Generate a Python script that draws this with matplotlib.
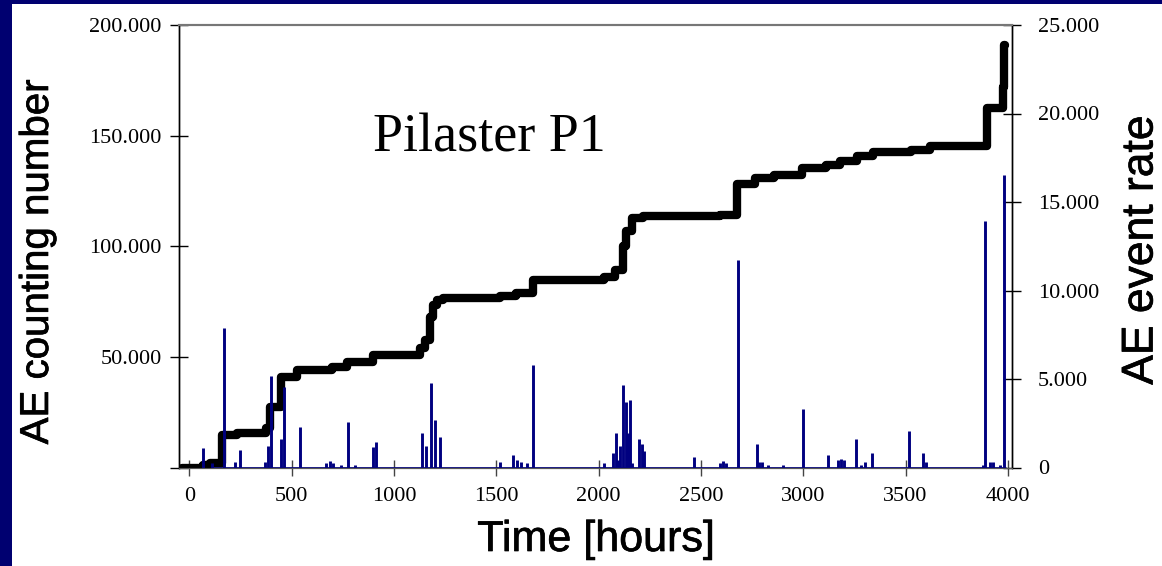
import matplotlib
matplotlib.use('Agg')
import matplotlib.pyplot as plt
import matplotlib.patheffects as pe
from matplotlib.patches import Rectangle
from matplotlib.ticker import FuncFormatter

# cumulative AE counts (step curve): time where a level starts, level value
count_hours = [-35, 68, 100, 161, 234, 376, 396, 449, 527, 698, 772, 899, 1128, 1153,
               1177, 1192, 1211, 1241, 1519, 1597, 1680, 2027, 2081, 2120, 2134, 2164,
               2217, 2593, 2676, 2764, 2857, 2994, 3111, 3179, 3262, 3341, 3526, 3619,
               3897, 3975, 3982, 3986]
count_values = [0, 1000, 2000, 14700, 15700, 17700, 27500, 41000, 44000, 45200, 47600,
                50900, 53900, 57700, 68200, 73500, 75800, 76500, 77300, 78800, 84800,
                86300, 89400, 99900, 106700, 112800, 113500, 114200, 128300, 130800,
                132300, 135400, 136600, 138400, 140600, 142500, 143700, 145200, 162500,
                172000, 191000, 191000]

# AE event rate spikes
rate_hours = [65, 111, 168, 225, 246, 371, 387, 400, 448, 461, 539, 670, 690, 700, 740,
              778, 810, 900, 912, 1136, 1157, 1182, 1203, 1226, 1519, 1584, 1600, 1620,
              1650, 1679, 2028, 2072, 2085, 2095, 2107, 2121, 2133, 2142, 2154, 2165,
              2199, 2211, 2224, 2468, 2593, 2610, 2625, 2683, 2772, 2785, 2800, 2830,
              2900, 3000, 3122, 3170, 3185, 3200, 3258, 3280, 3303, 3337, 3518, 3586,
              3600, 3880, 3889, 3912, 3927, 3960, 3980]
rate_values = [1090, 250, 7870, 330, 990, 330, 1230, 5170, 1600, 4530, 2310, 250, 350,
               250, 150, 2550, 150, 1180, 1460, 1970, 1200, 4800, 2690, 1740, 300, 700,
               450, 300, 250, 5800, 280, 840, 1970, 450, 1200, 4670, 3690, 1970, 3820,
               250, 1600, 1330, 950, 610, 250, 350, 250, 11700, 1330, 330, 330, 150,
               150, 3330, 700, 450, 500, 400, 1600, 150, 330, 840, 2080, 840, 330, 150,
               13900, 330, 330, 150, 16540]

x_ticks = [0, 500, 1000, 1500, 2000, 2500, 3000, 3500, 4000]
left_ticks = [0, 50000, 100000, 150000, 200000]
right_ticks = [0, 5000, 10000, 15000, 20000, 25000]

navy = '#000070'
spike_col = '#000080'
W, H = 1162, 566


def dotted(v, pos=None):
    return '0' if v == 0 else f'{int(v):,}'.replace(',', '.')


fig = plt.figure(figsize=(W / 100, H / 100), dpi=100, facecolor='white')
# slide border (left and top)
fig.patches.append(Rectangle((0, 0), 12 / W, 1, transform=fig.transFigure,
                             facecolor=navy, edgecolor='none', zorder=0))
fig.patches.append(Rectangle((0, 1 - 4 / H), 1, 4 / H, transform=fig.transFigure,
                             facecolor=navy, edgecolor='none', zorder=0))

ax = fig.add_axes([179 / W, 1 - 467.5 / H, (1012 - 179) / W, (467.5 - 25) / H])
ax.set_xlim(-50, 4020)
ax.set_ylim(0, 200000)

ax.hlines(0, -35, 3990, color=spike_col, linewidth=2, zorder=2)
ax.plot(count_hours, count_values, drawstyle='steps-post', color='black',
        linewidth=6, solid_joinstyle='round', solid_capstyle='round', zorder=3)

ax2 = ax.twinx()
ax2.set_ylim(0, 25000)
ax2.vlines(rate_hours, 0, rate_values, color=spike_col, linewidth=2.1)

serif = 'Liberation Serif'
ax.set_xticks(x_ticks)
ax.set_yticks(left_ticks)
ax2.set_yticks(right_ticks)
ax.yaxis.set_major_formatter(FuncFormatter(lambda v, p: '' if v == 0 else dotted(v)))
ax2.yaxis.set_major_formatter(FuncFormatter(dotted))

ax.tick_params(axis='x', direction='inout', length=12, width=1, pad=8,
               labelsize=16, color='#444444')
ax.tick_params(axis='y', direction='inout', length=13, width=1, pad=6, labelsize=16)
ax2.tick_params(axis='y', direction='inout', length=13, width=1, pad=12, labelsize=16)
for lab in ax.get_xticklabels() + ax.get_yticklabels() + ax2.get_yticklabels():
    lab.set_fontfamily(serif)

for a in (ax, ax2):
    a.spines['top'].set_color('#777777')
    a.spines['top'].set_linewidth(1.5)
    a.spines['left'].set_linewidth(1)
    a.spines['right'].set_linewidth(1)
    a.spines['bottom'].set_color('#555555')
    a.patch.set_visible(False)

sans = 'Liberation Sans'
heavy = [pe.withStroke(linewidth=0.5, foreground='black')]
fig.text(37 / W, 1 - 262 / H, 'AE counting number', rotation=90, ha='center',
         va='center', fontsize=29, family=sans, path_effects=heavy)
fig.text(1141 / W, 1 - 250 / H, 'AE event rate', rotation=90, ha='center',
         va='center', fontsize=32, family=sans, path_effects=heavy)
fig.text(596 / W, 1 - 540 / H, 'Time [hours]', ha='center', va='center',
         fontsize=31, family=sans, path_effects=heavy)
fig.text(373 / W, 1 - 152 / H, 'Pilaster P1', ha='left', va='baseline',
         fontsize=39, family=serif)

fig.savefig('out.png', dpi=100, facecolor=fig.get_facecolor())
